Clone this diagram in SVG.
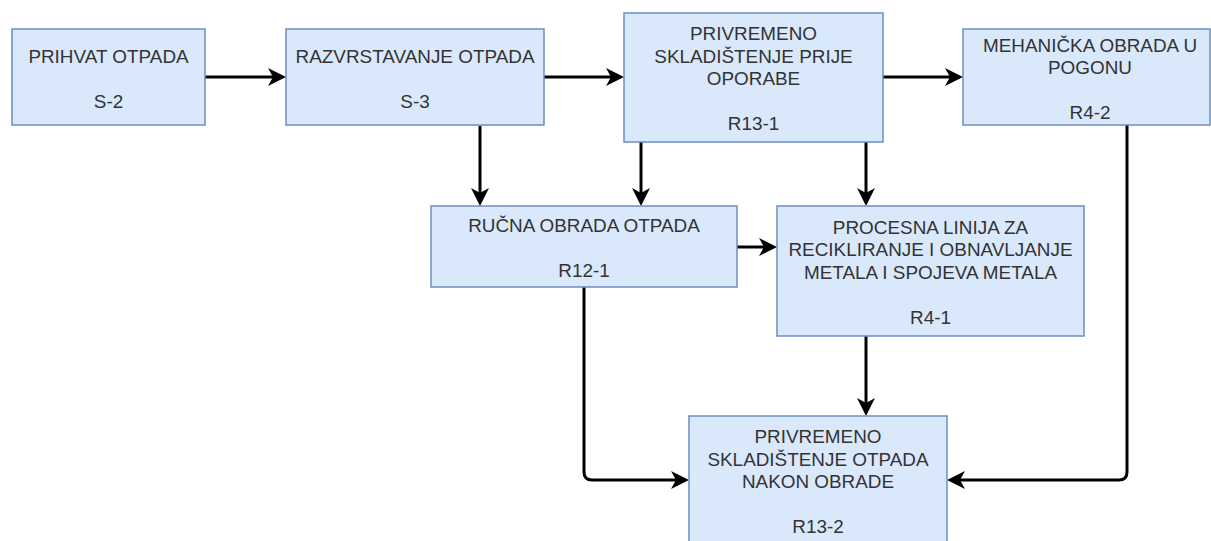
<svg xmlns="http://www.w3.org/2000/svg" width="1211" height="541" viewBox="0 0 1211 541">
<defs>
<style>
.box{fill:#dae8fc;stroke:#6c8ebf;stroke-width:1.5}
.lbl{font-family:"Liberation Sans",Arial,sans-serif;font-size:18.9px;fill:#333;text-anchor:middle}
.edge{fill:none;stroke:#000;stroke-width:3}
</style>
<marker id="arr" markerUnits="userSpaceOnUse" viewBox="-20 -10 22 20" markerWidth="22" markerHeight="20" refX="-12" refY="0" orient="auto">
<path d="M0,0 L-18,-9 L-13,0 L-18,9 Z" fill="#000"/>
</marker>
</defs>
<rect width="1211" height="541" fill="#fff"/>
<g id="edges">
<path class="edge" marker-end="url(#arr)" d="M205,77 H274"/>
<path class="edge" marker-end="url(#arr)" d="M544,77 H612"/>
<path class="edge" marker-end="url(#arr)" d="M883,77 H951"/>
<path class="edge" marker-end="url(#arr)" d="M480,126 V194"/>
<path class="edge" marker-end="url(#arr)" d="M641,142 V194"/>
<path class="edge" marker-end="url(#arr)" d="M866,142 V194"/>
<path class="edge" marker-end="url(#arr)" d="M737,247 H765"/>
<path class="edge" marker-end="url(#arr)" d="M866,336 V404"/>
<path class="edge" marker-end="url(#arr)" d="M584,287 V472 Q584,480 592,480 H677"/>
<path class="edge" marker-end="url(#arr)" d="M1127,125 V472 Q1127,480 1119,480 H959"/>
</g>
<g id="n1">
<rect class="box" x="12" y="29" width="193" height="96"/>
<text class="lbl" x="108.5" y="63">PRIHVAT OTPADA</text>
<text class="lbl" x="108.5" y="107.5">S-2</text>
</g>
<g id="n2">
<rect class="box" x="286" y="29" width="258" height="96"/>
<text class="lbl" x="415" y="62.5">RAZVRSTAVANJE OTPADA</text>
<text class="lbl" x="415" y="107.5">S-3</text>
</g>
<g id="n3">
<rect class="box" x="624" y="13" width="259" height="129"/>
<text class="lbl" x="753.5" y="40">PRIVREMENO</text>
<text class="lbl" x="753.5" y="62.5">SKLADIŠTENJE PRIJE</text>
<text class="lbl" x="753.5" y="85">OPORABE</text>
<text class="lbl" x="753.5" y="129.5">R13-1</text>
</g>
<g id="n4">
<rect class="box" x="963" y="29" width="247" height="96"/>
<text class="lbl" x="1090" y="51.5">MEHANIČKA OBRADA U</text>
<text class="lbl" x="1090" y="73.5">POGONU</text>
<text class="lbl" x="1090" y="118.5">R4-2</text>
</g>
<g id="n5">
<rect class="box" x="431" y="206" width="306" height="81"/>
<text class="lbl" x="584" y="231.5">RUČNA OBRADA OTPADA</text>
<text class="lbl" x="584" y="277">R12-1</text>
</g>
<g id="n6">
<rect class="box" x="777" y="206" width="307" height="130"/>
<text class="lbl" x="930.5" y="233.5">PROCESNA LINIJA ZA</text>
<text class="lbl" x="930.5" y="256">RECIKLIRANJE I OBNAVLJANJE</text>
<text class="lbl" x="930.5" y="278.5">METALA I SPOJEVA METALA</text>
<text class="lbl" x="930.5" y="323.5">R4-1</text>
</g>
<g id="n7">
<rect class="box" x="689" y="416" width="258" height="140"/>
<text class="lbl" x="818" y="443">PRIVREMENO</text>
<text class="lbl" x="818" y="465.5">SKLADIŠTENJE OTPADA</text>
<text class="lbl" x="818" y="488">NAKON OBRADE</text>
<text class="lbl" x="818" y="532.5">R13-2</text>
</g>
</svg>
